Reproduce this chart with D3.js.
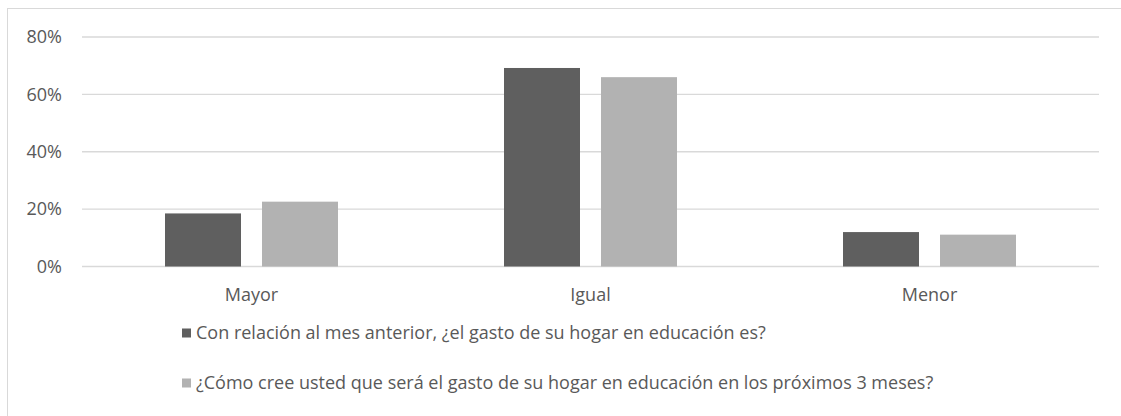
<!DOCTYPE html>
<html><head><meta charset="utf-8">
<script src="https://cdn.jsdelivr.net/npm/d3@7"></script>
<style>body{margin:0;background:#fff;overflow:hidden}svg{display:block}</style>
</head><body>
<svg id="c" width="1121" height="416"></svg>
<script>
const categories = ["Mayor", "Igual", "Menor"];
const seriesNames = [
  "Con relación al mes anterior, ¿el gasto de su hogar en educación es?",
  "¿Cómo cree usted que será el gasto de su hogar en educación en los próximos 3 meses?"
];
const seriesA = [0.185, 0.692, 0.120];
const seriesB = [0.226, 0.660, 0.111];
const yTicks = [0, 0.2, 0.4, 0.6, 0.8];
const colors = ["#5f5f5f", "#b2b2b2"];

const svg = d3.select("#c");
const font = "'Open Sans', sans-serif";

// fit font size so legend line 1 spans ~593px like the reference
const probe = svg.append("text").attr("font-family", font).attr("font-size", 15).text(seriesNames[0]);
const w15 = probe.node().getComputedTextLength();
probe.remove();
const fs = Math.max(12, Math.min(18, 15 * 593 / w15));

svg.append("rect").attr("x", 7.5).attr("y", 8.5).attr("width", 1200).attr("height", 500)
  .attr("fill", "#fff").attr("stroke", "#d9d9d9").attr("stroke-width", 1);

const x = d3.scaleBand().domain(categories).range([82, 1099]);
const xs = d3.scaleBand().domain([0, 1]).range([83, 256]).paddingInner(0.2165);
const y = d3.scaleLinear().domain([0, 0.8]).range([266.5, 37]);

svg.append("g").selectAll("line").data(yTicks).join("line")
  .attr("x1", 82).attr("x2", 1099)
  .attr("y1", d => y(d)).attr("y2", d => y(d))
  .attr("stroke", "#d9d9d9").attr("stroke-width", 1.3);

const yAxis = d3.axisLeft(y).tickValues(yTicks).tickFormat(d3.format(".0%")).tickSize(0).tickPadding(0);
const ya = svg.append("g").attr("transform", "translate(62,0)").call(yAxis);
ya.select(".domain").remove();
ya.selectAll("text").attr("font-family", font).attr("font-size", fs).attr("fill", "#595959");

[seriesA, seriesB].forEach((vals, si) => {
  svg.append("g").selectAll("rect").data(vals).join("rect")
    .attr("x", (d, i) => x(categories[i]) + xs(si))
    .attr("width", xs.bandwidth())
    .attr("y", d => y(d))
    .attr("height", d => y(0) - y(d))
    .attr("fill", colors[si]);
});

const xAxis = d3.axisBottom(x).tickSize(0).tickPadding(0);
const xa = svg.append("g").attr("transform", "translate(0,295)").call(xAxis);
xa.select(".domain").remove();
xa.selectAll("text").attr("font-family", font).attr("font-size", fs).attr("fill", "#595959").attr("dy", "0.35em");

const legend = svg.append("g");
const ly = [333, 383];
seriesNames.forEach((n, i) => {
  legend.append("rect").attr("x", 182).attr("y", ly[i] - 4.5).attr("width", 9).attr("height", 9).attr("fill", colors[i]);
  legend.append("text").attr("x", 196).attr("y", ly[i]).attr("dy", "0.35em")
    .attr("font-family", font).attr("font-size", fs).attr("fill", "#595959").text(n);
});
</script>
</body></html>
